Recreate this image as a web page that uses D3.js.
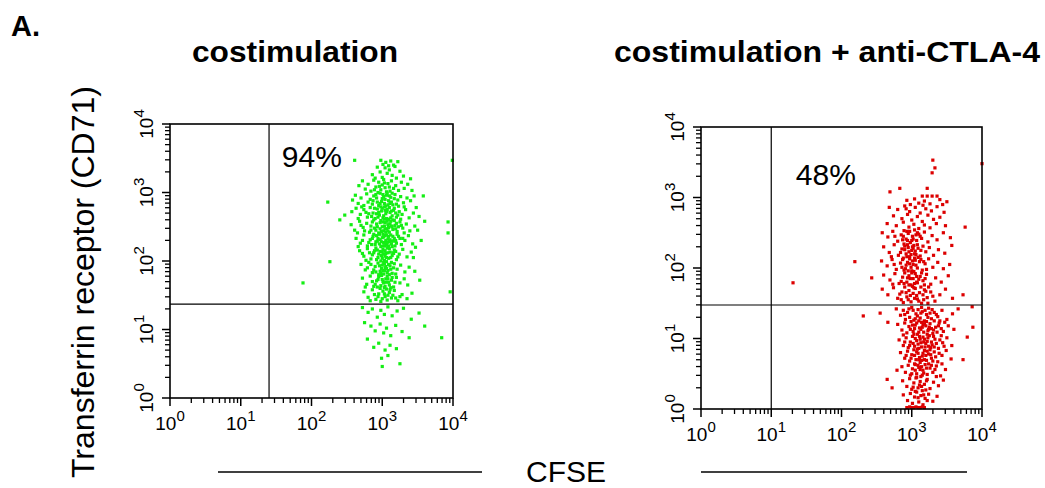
<!DOCTYPE html>
<html>
<head>
<meta charset="utf-8">
<script src="https://cdn.jsdelivr.net/npm/d3@7"></script>
<style>
  body { margin: 0; background: #fff; }
  svg { display: block; font-family: "Liberation Sans", Arial, sans-serif; }
</style>
</head>
<body>
<svg id="chart" width="1045" height="488"></svg>
<script>
// values are log10 of fluorescence: [CFSE, CD71]
const panelTitles = ['costimulation', 'costimulation + anti-CTLA-4'];
const percentLabels = ['94%', '48%'];
const gateX = [1.40, 1.00];
const gateY = [1.37, 1.475];
const decades = [0, 1, 2, 3, 4];

const greenPoints = [
  [2.98,3.47],[3.05,3.44],[3.12,3.46],[3.22,3.45],[3.01,3.41],[3.16,3.40],[2.61,3.47],
  [2.93,3.37],[3.04,3.36],[3.10,3.33],[3.18,3.38],[2.97,3.30],[3.07,3.28],[3.14,3.25],[3.25,3.31],[2.86,3.26],[3.00,3.22],[3.20,3.21],[2.90,3.21],[3.09,3.39],[3.30,3.24],
  [2.72,3.17],[2.80,3.12],[2.88,3.18],[2.95,3.15],[3.02,3.19],[3.08,3.13],[3.13,3.17],[3.19,3.10],[3.27,3.15],[3.36,3.12],[2.76,3.05],[2.84,3.02],[2.91,3.08],[2.98,3.04],[3.04,3.07],[3.11,3.02],[3.16,3.06],[3.23,3.03],[3.31,3.06],[3.42,3.03],[2.67,3.10],[3.00,3.11],[3.06,3.01],[2.94,3.00],
  [2.62,2.96],[2.70,2.92],[2.78,2.98],[2.83,2.90],[2.88,2.95],[2.93,2.86],[2.97,2.99],[3.00,2.91],[3.03,2.84],[3.06,2.96],[3.09,2.88],[3.12,2.93],[3.15,2.82],[3.18,2.97],[3.22,2.89],[3.26,2.94],[3.30,2.85],[3.35,2.92],[3.40,2.88],[2.66,2.84],[2.74,2.81],[2.80,2.86],[2.86,2.83],[2.91,2.97],[2.95,2.81],[3.01,2.97],[3.04,2.90],[3.08,2.82],[3.13,2.86],[3.20,2.83],[2.58,2.89],[3.45,2.95],[2.99,2.87],[3.07,2.99],
  [2.57,2.72],[2.63,2.77],[2.69,2.68],[2.74,2.75],[2.79,2.64],[2.83,2.78],[2.87,2.70],[2.90,2.62],[2.93,2.76],[2.96,2.67],[2.99,2.73],[3.01,2.63],[3.03,2.79],[3.05,2.69],[3.07,2.75],[3.09,2.61],[3.11,2.71],[3.14,2.66],[3.17,2.77],[3.20,2.64],[3.24,2.72],[3.28,2.68],[3.33,2.75],[3.38,2.63],[3.44,2.70],[2.66,2.62],[2.77,2.71],[2.85,2.65],[2.92,2.69],[2.98,2.79],[3.02,2.66],[3.06,2.62],[3.10,2.78],[3.13,2.73],[3.19,2.70],[3.26,2.61],[3.31,2.79],[2.71,2.79],[2.95,2.71],[3.04,2.74],
  [2.56,2.53],[2.61,2.45],[2.68,2.58],[2.73,2.49],[2.78,2.55],[2.82,2.42],[2.86,2.57],[2.89,2.48],[2.92,2.54],[2.95,2.41],[2.98,2.59],[3.00,2.50],[3.02,2.44],[3.04,2.56],[3.06,2.47],[3.08,2.53],[3.10,2.42],[3.12,2.58],[3.15,2.46],[3.18,2.52],[3.21,2.43],[3.25,2.57],[3.29,2.48],[3.34,2.54],[3.39,2.44],[3.46,2.51],[2.65,2.41],[2.75,2.44],[2.84,2.51],[2.91,2.45],[2.97,2.47],[3.01,2.57],[3.05,2.42],[3.09,2.49],[3.13,2.51],[3.17,2.59],[3.23,2.50],[3.31,2.41],[2.70,2.52],[3.03,2.51],
  [2.63,2.33],[2.69,2.26],[2.74,2.38],[2.79,2.22],[2.83,2.31],[2.87,2.36],[2.90,2.24],[2.93,2.29],[2.96,2.39],[2.98,2.21],[3.00,2.34],[3.02,2.27],[3.04,2.37],[3.06,2.23],[3.08,2.32],[3.10,2.28],[3.12,2.38],[3.14,2.21],[3.17,2.33],[3.20,2.26],[3.23,2.36],[3.27,2.24],[3.32,2.30],[3.37,2.37],[3.43,2.25],[2.72,2.30],[2.81,2.27],[2.88,2.39],[2.94,2.33],[2.99,2.28],[3.03,2.22],[3.05,2.30],[3.09,2.36],[3.13,2.25],[3.16,2.29],[3.21,2.39],[3.29,2.33],[2.66,2.21],[3.01,2.39],[3.07,2.27],
  [2.68,2.15],[2.74,2.07],[2.79,2.18],[2.84,2.03],[2.88,2.12],[2.91,2.19],[2.94,2.05],[2.97,2.14],[2.99,2.08],[3.01,2.17],[3.03,2.01],[3.05,2.11],[3.07,2.19],[3.09,2.04],[3.11,2.13],[3.14,2.08],[3.17,2.16],[3.20,2.02],[3.24,2.10],[3.29,2.17],[3.35,2.06],[3.41,2.13],[2.77,2.01],[2.86,2.09],[2.93,2.16],[2.98,2.00],[3.02,2.10],[3.06,2.05],[3.10,2.18],[3.15,2.12],[3.22,2.06],[3.00,2.04],[3.04,2.15],[2.72,2.11],
  [2.70,1.95],[2.76,1.87],[2.81,1.98],[2.86,1.83],[2.90,1.92],[2.94,1.97],[2.97,1.85],[3.00,1.94],[3.02,1.81],[3.04,1.90],[3.06,1.99],[3.08,1.86],[3.11,1.93],[3.14,1.82],[3.17,1.96],[3.21,1.88],[3.26,1.94],[3.32,1.84],[3.38,1.91],[2.79,1.90],[2.88,1.87],[2.95,1.80],[2.99,1.89],[3.03,1.96],[3.07,1.83],[3.12,1.88],[3.19,1.81],[3.01,1.86],[3.05,1.92],[2.84,1.95],
  [2.72,1.75],[2.78,1.66],[2.83,1.78],[2.88,1.63],[2.92,1.71],[2.95,1.77],[2.98,1.64],[3.00,1.73],[3.03,1.61],[3.05,1.69],[3.07,1.78],[3.10,1.65],[3.13,1.72],[3.16,1.62],[3.20,1.76],[3.25,1.68],[3.31,1.74],[2.86,1.70],[2.93,1.62],[2.99,1.79],[3.02,1.68],[3.08,1.74],[3.12,1.61],[3.18,1.69],[3.36,1.65],[2.76,1.62],
  [2.74,1.55],[2.80,1.47],[2.86,1.58],[2.91,1.44],[2.95,1.52],[2.98,1.41],[3.01,1.56],[3.04,1.48],[3.07,1.43],[3.10,1.54],[3.13,1.46],[3.17,1.57],[3.22,1.42],[3.28,1.51],[3.35,1.45],[2.89,1.51],[3.00,1.45],[3.06,1.59],[3.15,1.50],[3.42,1.53],
  [2.96,3.09],[3.03,3.14],[3.10,3.08],[2.89,3.04],[3.14,2.99],[2.92,2.92],[3.02,2.94],[3.10,2.95],[3.17,2.91],[2.87,2.88],[2.97,2.84],[3.05,2.80],[3.11,2.84],[3.23,2.80],[2.89,2.77],[2.94,2.64],[3.00,2.77],[3.06,2.72],[3.12,2.63],[3.16,2.74],[3.22,2.67],[2.81,2.69],[2.88,2.60],[2.97,2.56],[3.03,2.61],[3.07,2.58],[3.11,2.54],[3.15,2.60],[3.20,2.55],
  [2.84,2.45],[2.93,2.50],[2.99,2.43],[3.04,2.47],[3.08,2.44],[3.14,2.50],[3.19,2.47],[3.27,2.52],[2.86,2.33],[2.92,2.37],[2.97,2.31],[3.02,2.35],[3.06,2.38],[3.11,2.31],[3.15,2.36],[3.19,2.30],[3.25,2.33],[2.85,2.24],[2.91,2.28],[2.96,2.25],[3.01,2.22],[3.04,2.26],[3.09,2.22],[3.13,2.29],[3.18,2.22],
  [2.89,2.15],[2.95,2.10],[3.00,2.13],[3.04,2.07],[3.08,2.12],[3.12,2.05],[3.16,2.11],[3.19,2.14],[2.82,2.12],[2.92,2.02],[2.96,1.93],[3.02,1.98],[3.06,1.89],[3.09,1.95],[3.13,1.98],[3.16,1.90],[2.91,1.84],[2.98,1.82],[3.03,1.86],[3.10,1.80],[2.94,1.73],[3.01,1.70],[3.05,1.74],[3.09,1.69],[3.14,1.76],[2.90,1.66],[2.97,1.60],[3.04,1.63],[3.11,1.58],[2.94,1.48],[3.03,1.52],[3.08,1.50],[3.19,1.46],[2.83,1.42],[3.25,1.48],
  [3.48,2.78],[3.52,2.65],[3.50,2.45],[3.55,2.30],[3.47,2.20],[3.60,2.58],[3.44,2.05],[3.46,1.85],[3.53,1.72],[3.58,2.95],[3.40,3.20],
  [2.72,1.32],[2.80,1.25],[2.86,1.30],[2.93,1.18],[2.98,1.28],[3.03,1.22],[3.08,1.33],[3.14,1.20],[3.21,1.27],[3.30,1.31],[3.41,1.15],[3.52,1.24],[2.75,1.10],[2.84,1.05],[2.90,0.98],[2.97,1.08],[3.02,0.95],[3.06,1.02],[3.12,0.91],[3.19,1.06],[3.28,0.97],[3.38,0.88],[2.79,0.86],[2.88,0.74],[2.95,0.80],[3.04,0.70],[3.11,0.77],[3.20,0.72],[2.99,0.58],[3.08,0.62],[3.25,0.50],[3.00,0.46],[3.60,1.05],
  [2.23,2.86],[2.26,1.99],[1.88,1.68],[3.99,3.47],[3.93,2.57],[3.93,2.41],[3.96,1.55],[3.84,0.88],[2.40,2.60],[2.47,2.67]
];

const redPoints = [
  [3.30,3.53],[3.33,3.42],[3.29,3.35],[2.83,3.13],[2.69,3.08],[3.22,3.13],[3.15,3.02],[3.22,3.02],[3.29,3.02],[3.36,3.02],[3.50,2.94],[2.93,2.96],[3.18,2.95],[3.10,2.92],[3.40,2.97],[2.98,2.90],[3.26,2.91],[3.44,2.90],[3.04,2.98],
  [4.00,3.48],[3.76,2.58],[2.19,2.09],[2.43,1.86],[1.31,1.79],
  [2.68,2.86],[2.80,2.83],[2.90,2.88],[2.97,2.80],[3.05,2.86],[3.12,2.78],[3.20,2.84],[3.28,2.81],[3.36,2.87],[3.46,2.79],[2.74,2.74],[2.86,2.70],[2.94,2.76],[3.00,2.68],[3.08,2.73],[3.15,2.66],[3.23,2.75],[3.31,2.69],[3.40,2.72],[2.65,2.63],[2.78,2.60],[2.88,2.65],[2.96,2.58],[3.03,2.62],[3.10,2.56],[3.18,2.61],[3.26,2.57],[3.35,2.63],[3.48,2.60],[2.92,2.84],[3.16,2.89],
  [2.58,2.50],[2.66,2.44],[2.73,2.52],[2.80,2.38],[2.85,2.47],[2.89,2.53],[2.92,2.41],[2.95,2.49],[2.98,2.36],[3.01,2.45],[3.04,2.54],[3.07,2.39],[3.10,2.48],[3.14,2.42],[3.18,2.51],[3.23,2.37],[3.29,2.46],[3.36,2.40],[3.45,2.50],[3.55,2.43],[2.87,2.40],[2.93,2.52],[3.00,2.39],[3.06,2.47],[2.76,2.45],
  [2.60,2.30],[2.68,2.22],[2.75,2.33],[2.81,2.18],[2.86,2.27],[2.89,2.34],[2.92,2.20],[2.95,2.29],[2.97,2.16],[3.00,2.25],[3.03,2.32],[3.06,2.19],[3.09,2.28],[3.12,2.17],[3.16,2.31],[3.20,2.23],[3.25,2.29],[3.31,2.18],[3.38,2.26],[3.47,2.21],[3.57,2.32],[2.84,2.22],[2.90,2.26],[2.94,2.33],[2.99,2.19],[3.02,2.28],[3.05,2.24],[2.71,2.16],
  [2.57,2.10],[2.65,2.03],[2.72,2.12],[2.78,1.98],[2.84,2.07],[2.88,2.14],[2.91,1.99],[2.94,2.08],[2.97,2.13],[3.00,1.96],[3.02,2.05],[3.05,2.11],[3.08,2.00],[3.11,2.09],[3.15,1.97],[3.19,2.06],[3.24,2.13],[3.30,2.01],[3.37,2.08],[3.45,1.99],[3.54,2.05],[2.86,2.01],[2.92,2.04],[2.99,2.01],[3.04,2.14],[3.13,2.12],[2.75,2.05],[3.21,1.98],
  [2.60,1.90],[2.69,1.83],[2.76,1.92],[2.82,1.78],[2.87,1.87],[2.90,1.93],[2.93,1.80],[2.96,1.89],[2.99,1.76],[3.02,1.85],[3.05,1.92],[3.08,1.79],[3.12,1.88],[3.16,1.82],[3.21,1.91],[3.27,1.77],[3.34,1.86],[3.42,1.80],[3.52,1.89],[2.85,1.81],[2.94,1.86],[3.00,1.93],[3.10,1.84],[3.18,1.76],[2.73,1.77],[3.04,1.78],
  [2.58,1.70],[2.66,1.62],[2.74,1.72],[2.80,1.57],[2.86,1.66],[2.90,1.73],[2.93,1.59],[2.96,1.68],[2.99,1.52],[3.02,1.64],[3.05,1.71],[3.08,1.56],[3.11,1.65],[3.14,1.50],[3.18,1.69],[3.22,1.58],[3.27,1.66],[3.33,1.53],[3.40,1.62],[3.48,1.70],[3.58,1.57],[2.88,1.51],[2.95,1.55],[3.01,1.74],[3.07,1.61],[3.16,1.62],[3.24,1.73],[2.83,1.63],[3.73,1.62],
  [2.88,2.45],[2.94,2.39],[2.97,2.52],[3.02,2.41],[3.08,2.50],[3.12,2.45],[2.90,2.31],[2.96,2.23],[3.01,2.30],[3.04,2.20],[3.08,2.33],[3.13,2.25],[2.87,2.12],[2.93,2.16],[2.97,2.06],[3.01,2.10],[3.06,2.04],[3.09,2.15],[3.17,2.09],[2.89,1.97],
  [2.95,1.96],[2.98,1.85],[3.03,1.95],[3.07,1.88],[3.14,1.93],[3.19,1.85],[2.89,1.78],[2.96,1.76],[3.03,1.72],[3.07,1.80],[3.13,1.73],[3.20,1.67],[2.92,1.65],[2.98,1.61],[3.04,1.57],[3.10,1.53],[3.17,1.55],[3.23,1.50],[2.85,1.55],[3.30,1.60],
  [2.55,1.36],[2.66,1.23],[2.31,1.32],[2.78,1.42],[2.84,1.33],[2.88,1.40],[2.91,1.27],[2.94,1.37],[2.97,1.30],[3.00,1.44],[3.03,1.26],[3.06,1.35],[3.09,1.41],[3.12,1.29],[3.15,1.38],[3.18,1.25],[3.21,1.34],[3.24,1.43],[3.28,1.28],[3.32,1.37],[3.37,1.31],[3.43,1.40],[3.50,1.27],[3.58,1.35],[3.86,1.45],[3.66,1.42],[2.96,1.42],[3.05,1.28],[3.14,1.44],[3.26,1.36],[3.40,1.25],[2.90,1.34],
  [2.80,1.20],[2.86,1.12],[2.90,1.22],[2.93,1.08],[2.96,1.17],[2.99,1.24],[3.02,1.10],[3.05,1.19],[3.08,1.06],[3.11,1.15],[3.14,1.23],[3.17,1.09],[3.20,1.18],[3.23,1.11],[3.26,1.21],[3.30,1.07],[3.34,1.16],[3.39,1.22],[3.45,1.10],[3.52,1.18],[3.60,1.13],[3.87,1.16],[2.98,1.13],[3.07,1.22],[3.13,1.13],[3.22,1.06],[3.28,1.14],[3.36,1.09],[3.47,1.23],[2.88,1.05],[3.01,1.19],[3.18,1.21],
  [2.82,0.98],[2.88,0.90],[2.92,1.01],[2.95,0.87],[2.98,0.95],[3.01,1.03],[3.04,0.89],[3.07,0.97],[3.10,0.86],[3.13,0.94],[3.16,1.02],[3.19,0.88],[3.22,0.96],[3.25,1.04],[3.29,0.91],[3.33,0.99],[3.38,0.86],[3.44,0.94],[3.50,1.01],[3.57,0.90],[3.79,1.02],[2.97,0.90],[3.05,1.00],[3.12,0.99],[3.20,0.93],[3.27,0.87],[3.35,0.93],[3.42,1.04],[2.90,0.95],[3.09,0.92],
  [2.84,0.80],[2.90,0.72],[2.94,0.82],[2.97,0.68],[3.00,0.77],[3.03,0.84],[3.06,0.70],[3.09,0.79],[3.12,0.66],[3.15,0.75],[3.18,0.83],[3.21,0.69],[3.24,0.78],[3.28,0.72],[3.32,0.81],[3.37,0.67],[3.43,0.76],[3.49,0.83],[3.56,0.71],[3.73,0.70],[2.99,0.72],[3.07,0.81],[3.14,0.69],[3.20,0.76],[3.26,0.84],[3.34,0.74],[2.92,0.76],[3.11,0.73],
  [2.86,0.60],[2.91,0.52],[2.95,0.62],[2.98,0.48],[3.01,0.57],[3.04,0.64],[3.07,0.50],[3.10,0.59],[3.13,0.46],[3.16,0.55],[3.19,0.63],[3.22,0.49],[3.26,0.58],[3.30,0.52],[3.35,0.61],[3.41,0.47],[3.48,0.56],[3.00,0.50],[3.09,0.62],[3.17,0.51],[3.24,0.64],[2.79,0.55],[3.05,0.55],[3.14,0.60],
  [2.72,0.30],[2.87,0.40],[2.93,0.32],[2.97,0.43],[3.00,0.28],[3.03,0.37],[3.06,0.44],[3.09,0.30],[3.12,0.39],[3.15,0.26],[3.18,0.35],[3.22,0.42],[3.26,0.29],[3.31,0.38],[3.38,0.33],[3.45,0.41],[3.02,0.31],[3.11,0.34],[3.20,0.27],[2.65,0.42],
  [2.88,0.20],[2.94,0.12],[2.98,0.22],[3.01,0.08],[3.04,0.17],[3.07,0.24],[3.10,0.10],[3.13,0.19],[3.16,0.06],[3.19,0.15],[3.24,0.21],[3.30,0.11],[2.93,0.02],[2.97,0.03],[3.00,0.02],[3.03,0.02],[3.06,0.03],[3.09,0.02],[3.12,0.02],[3.15,0.03],[3.18,0.02],[3.36,0.18],
  [3.02,1.40],[3.08,1.32],[3.13,1.36],[3.19,1.40],[3.23,1.30],[3.29,1.41],[3.35,1.34],[3.10,1.25],[3.16,1.20],[3.21,1.24],[3.25,1.16],[3.32,1.25],[3.38,1.18],[3.04,1.14],[3.10,1.09],[3.15,1.16],[3.24,1.13],[3.31,1.12],[3.42,1.14],[3.03,1.06],
  [3.11,1.03],[3.18,0.99],[3.23,1.01],[3.28,0.95],[3.31,1.03],[3.40,0.98],[3.46,0.89],[3.02,0.93],[3.14,0.88],[3.17,0.95],[3.24,0.89],[3.32,0.88],[3.08,0.85],[3.16,0.79],[3.22,0.82],[3.27,0.77],[3.30,0.68],[3.39,0.79],[3.04,0.76],[3.10,0.70],
  [3.18,0.70],[3.05,0.63],[3.12,0.56],[3.21,0.58],[3.28,0.62],[3.33,0.56],[3.07,0.45],[3.15,0.48],[3.21,0.40],[3.14,0.32],[3.05,0.25],[3.17,0.20],[3.09,0.16],[3.22,0.12],[3.35,0.46],[3.43,0.64]
];

const panels = [
  { left: 170, right: 453, top: 124, bottom: 398, color: '#14ee14', points: greenPoints,
    titleX: 295, titleLen: 206, pctAt: [1.58, 3.37] },
  { left: 701, right: 982, top: 127, bottom: 409, color: '#dc0000', points: redPoints,
    titleX: 827, titleLen: 426, pctAt: [1.35, 3.18] }
];

const svg = d3.select('#chart');

svg.append('text')
    .attr('x', 11)
    .attr('y', 36)
    .style('font-weight', 'bold')
    .style('font-size', '29px')
    .text('A.');

panels.forEach((p, i) => {
  const x = d3.scaleLog().domain([1, 1e4]).range([p.left, p.right]);
  const y = d3.scaleLog().domain([1, 1e4]).range([p.bottom, p.top]);
  const g = svg.append('g');

  g.append('text')
      .attr('x', p.titleX)
      .attr('y', 62)
      .attr('text-anchor', 'middle')
      .attr('textLength', p.titleLen)
      .attr('lengthAdjust', 'spacingAndGlyphs')
      .style('font-weight', 'bold')
      .style('font-size', '29px')
      .text(panelTitles[i]);

  // log ticks: majors at decades, minors at 2..9
  const minors = [];
  decades.slice(0, -1).forEach(k => {
    for (let m = 2; m <= 9; m++) minors.push(m * Math.pow(10, k));
  });
  const majors = decades.map(k => Math.pow(10, k));

  const xAxis = g.append('g').attr('transform', `translate(0, ${p.bottom})`);
  xAxis.selectAll('.minor').data(minors).enter().append('line')
      .attr('x1', d => x(d)).attr('x2', d => x(d))
      .attr('y1', 0).attr('y2', 5)
      .style('stroke', '#000').style('stroke-width', 1.3);
  xAxis.selectAll('.major').data(majors).enter().append('line')
      .attr('x1', d => x(d)).attr('x2', d => x(d))
      .attr('y1', 0).attr('y2', 8)
      .style('stroke', '#000').style('stroke-width', 1.5);
  const xl = xAxis.selectAll('.lab').data(decades).enter().append('text')
      .attr('x', d => x(Math.pow(10, d)))
      .attr('y', 32)
      .attr('text-anchor', 'middle')
      .style('font-size', '19px');
  xl.append('tspan').text('10');
  xl.append('tspan').attr('dy', -9).style('font-size', '15px').text(d => d);

  const yAxis = g.append('g').attr('transform', `translate(${p.left}, 0)`);
  yAxis.selectAll('.minor').data(minors).enter().append('line')
      .attr('y1', d => y(d)).attr('y2', d => y(d))
      .attr('x1', 0).attr('x2', -5)
      .style('stroke', '#000').style('stroke-width', 1.3);
  yAxis.selectAll('.major').data(majors).enter().append('line')
      .attr('y1', d => y(d)).attr('y2', d => y(d))
      .attr('x1', 0).attr('x2', -8)
      .style('stroke', '#000').style('stroke-width', 1.5);
  const yl = yAxis.selectAll('.lab').data(decades).enter().append('text')
      .attr('transform', d => `translate(-17, ${y(Math.pow(10, d))}) rotate(-90)`)
      .attr('text-anchor', 'middle')
      .style('font-size', '19px');
  yl.append('tspan').text('10');
  yl.append('tspan').attr('dy', -9).style('font-size', '15px').text(d => d);

  g.selectAll('.dot').data(p.points).enter().append('rect')
      .attr('x', d => x(Math.pow(10, d[0])) - 1.6)
      .attr('y', d => y(Math.pow(10, d[1])) - 1.6)
      .attr('width', 3.2)
      .attr('height', 3.2)
      .style('fill', p.color);

  g.append('line')
      .attr('x1', x(Math.pow(10, gateX[i]))).attr('x2', x(Math.pow(10, gateX[i])))
      .attr('y1', p.top).attr('y2', p.bottom)
      .style('stroke', '#000').style('stroke-width', 1.2);
  g.append('line')
      .attr('x1', p.left).attr('x2', p.right)
      .attr('y1', y(Math.pow(10, gateY[i]))).attr('y2', y(Math.pow(10, gateY[i])))
      .style('stroke', '#000').style('stroke-width', 1.2);

  g.append('rect')
      .attr('x', p.left).attr('y', p.top)
      .attr('width', p.right - p.left).attr('height', p.bottom - p.top)
      .style('fill', 'none').style('stroke', '#000').style('stroke-width', 1.6);

  g.append('text')
      .attr('x', x(Math.pow(10, p.pctAt[0])))
      .attr('y', y(Math.pow(10, p.pctAt[1])))
      .style('font-size', '30px')
      .text(percentLabels[i]);
});

svg.append('text')
    .attr('transform', 'translate(94, 282) rotate(-90)')
    .attr('text-anchor', 'middle')
    .attr('textLength', 392)
    .attr('lengthAdjust', 'spacingAndGlyphs')
    .style('font-size', '31px')
    .text('Transferrin receptor (CD71)');

svg.append('text')
    .attr('x', 566)
    .attr('y', 482)
    .attr('text-anchor', 'middle')
    .attr('textLength', 80)
    .attr('lengthAdjust', 'spacingAndGlyphs')
    .style('font-size', '30px')
    .text('CFSE');

[[218, 482], [701, 967]].forEach(s => {
  svg.append('line')
      .attr('x1', s[0]).attr('x2', s[1])
      .attr('y1', 472).attr('y2', 472)
      .style('stroke', '#000').style('stroke-width', 1.6);
});
</script>
</body>
</html>
